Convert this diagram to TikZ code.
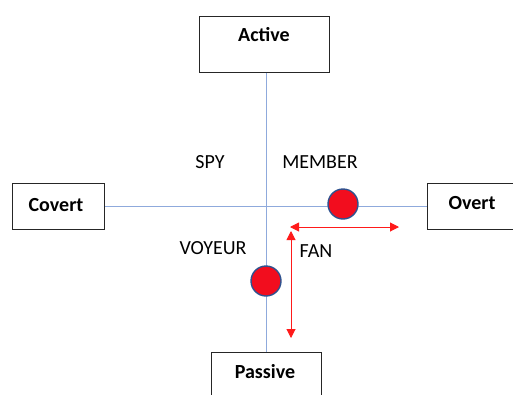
\documentclass[tikz,border=0pt]{standalone}
\usepackage{fontspec}
\setmainfont{Carlito}
\usetikzlibrary{arrows.meta}
\definecolor{axisblue}{HTML}{8FAADC}
\definecolor{dotred}{HTML}{F20D1E}
\definecolor{dotrim}{HTML}{2F528F}
\definecolor{arrred}{HTML}{FF1A1A}
\tikzset{
  pole/.style={draw=black!85, line width=0.9pt, fill=white, inner sep=0pt},
  poletext/.style={font=\fontsize{20}{22}\selectfont\bfseries, inner sep=0pt},
  axis/.style={draw=axisblue, line width=0.9pt},
  dot/.style={circle, fill=dotred, draw=dotrim, line width=1.4pt,
    minimum size=30pt, inner sep=0pt},
  tag/.style={font=\fontsize{20}{22}\selectfont, inner sep=0pt},
  span/.style={draw=arrred, line width=1pt,
    {Triangle[length=9pt,width=9pt]}-{Triangle[length=9pt,width=9pt]}}
}
\begin{document}
\begin{tikzpicture}[x=1pt,y=-1pt]
  \useasboundingbox (0,0) rectangle (513,394);
  \clip (0,0) rectangle (513,394);
  % four pole boxes
  \node[pole, minimum width=130pt, minimum height=56pt, anchor=north west] (active) at (199,16) {};
  \node[poletext] at (264,35) {Active};
  \node[pole, minimum width=92pt, minimum height=46pt, anchor=north west] (covert) at (12,183) {};
  \node[poletext] at (56,205) {Covert};
  \node[pole, minimum width=110pt, minimum height=46pt, anchor=north west] (overt) at (427,183) {};
  \node[poletext] at (472,203) {Overt};
  \node[pole, minimum width=110pt, minimum height=60pt, anchor=north west] (passive) at (211,352) {};
  \node[poletext] at (265,372) {Passive};
  % axes
  \draw[axis] (active.south -| 266,0) -- (passive.north -| 266,0);
  \draw[axis] (covert.east) -- (overt.west |- covert.east);
  % quadrant labels
  \node[tag] (spy) at (210,162) {SPY};
  \node[tag] (member) at (320,162) {MEMBER};
  \node[tag] (voyeur) at (213,248) {VOYEUR};
  \node[tag] (fan) at (316,251) {FAN};
  % positions on the axes
  \node[dot] (m) at (343,204) {};
  \node[dot] (v) at (266,281) {};
  % red ranges
  \coordinate (hl) at (290,227);
  \coordinate (hr) at (399,227);
  \coordinate (vt) at (291,231);
  \coordinate (vb) at (291,338);
  \draw[span] (hl) -- (hr);
  \draw[span] (vt) -- (vb);
\end{tikzpicture}
\end{document}
